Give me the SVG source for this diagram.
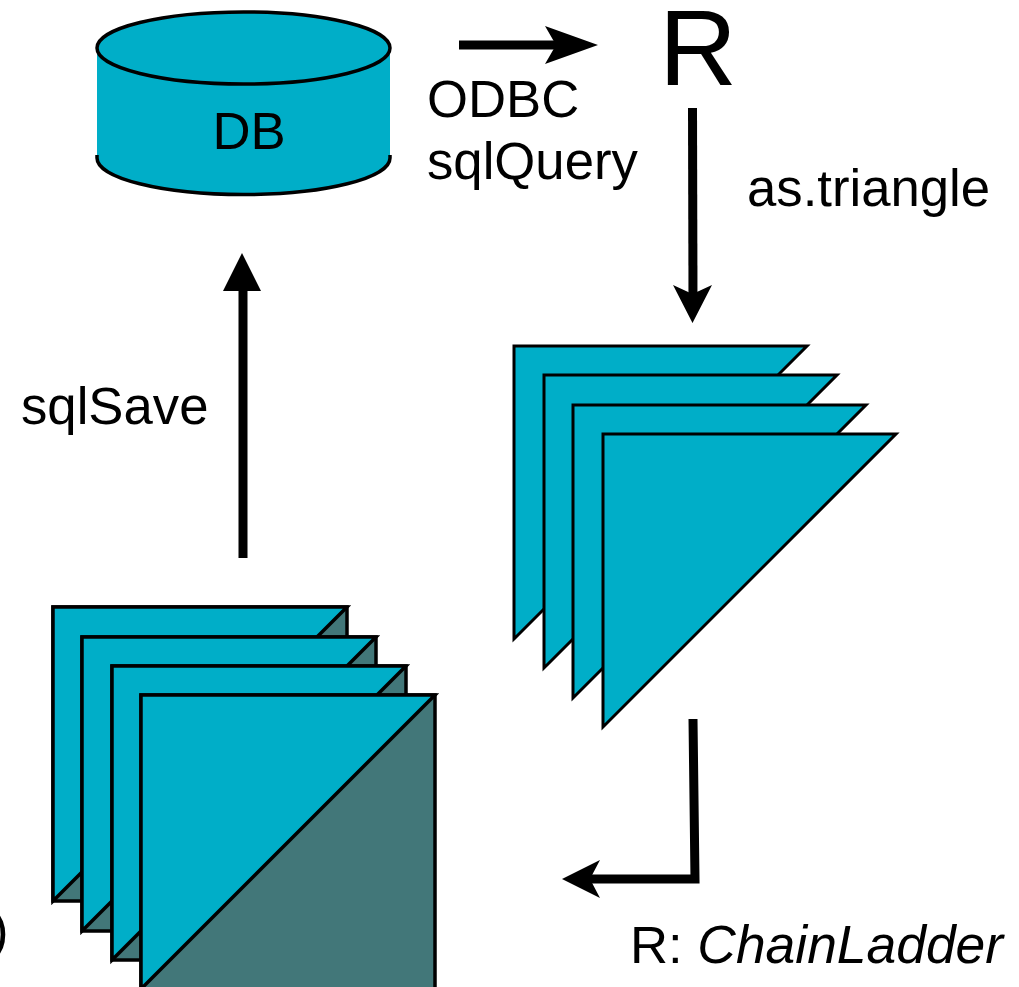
<svg xmlns="http://www.w3.org/2000/svg" width="1019" height="987" viewBox="0 0 1019 987">
<style>
text{font-family:"Liberation Sans",Arial,sans-serif;font-size:52.7px;fill:#000}
.c{fill:#00aec8;stroke:#000;stroke-width:3.5}
.d{fill:#427779;stroke:#000;stroke-width:3.5}
.t{fill:#00aec8;stroke:#000;stroke-width:3.5;stroke-linejoin:miter}
.u{fill:#00aec8;stroke:#000;stroke-width:3;stroke-linejoin:miter}
.l{fill:none;stroke:#000;stroke-width:9}
.h{fill:#000;stroke:none}
.a{fill:none;stroke:#000;stroke-width:3.5}
</style>
<defs>
<path id="tri" class="u" d="M0 0H293L0 293Z"/>
<g id="sq"><rect class="d" width="294" height="294"/><path class="t" d="M0 0H294L0 294Z"/></g>
</defs>
<rect width="1019" height="987" fill="#fff"/>
<g id="connectors">
<path class="l" d="M459 45H575"/><path class="h" d="M598 45L545 26L556 45L545 64Z"/>
<path class="l" d="M692.500 108L693 300"/><path class="h" d="M692.500 323L673 285L692.500 294L712 285Z"/>
<path class="l" d="M243 558V280"/><path class="h" d="M242 253L223 291H261Z"/>
<path class="l" d="M693 719L695 879H590"/><path class="h" d="M562 879L600 860L590 879L600 898Z"/>
</g>
<g id="db">
<path fill="#00aec8" d="M97 48H390V158C390 178 325 194.500 243.500 194.500S97 178 97 158Z"/>
<path class="a" d="M97 155V158C97 178 162 194.500 243.500 194.500S390 178 390 158V155"/>
<ellipse class="c" cx="243.500" cy="48" rx="146.500" ry="36"/>
<text x="249" y="149" text-anchor="middle">DB</text>
</g>
<g id="r"><text x="659" y="85" style="font-size:108px">R</text></g>
<g id="triangles">
<use href="#tri" x="514" y="346"/><use href="#tri" x="544" y="375"/><use href="#tri" x="573" y="405"/><use href="#tri" x="603" y="434"/>
</g>
<g id="squares">
<use href="#sq" x="53" y="607"/><use href="#sq" x="82" y="637"/><use href="#sq" x="112" y="666"/><use href="#sq" x="141" y="695"/>
</g>
<g id="labels">
<text x="427" y="117">ODBC</text>
<text x="427" y="179">sqlQuery</text>
<text x="747" y="206">as.triangle</text>
<text x="21" y="424">sqlSave</text>
<text x="630" y="963">R: <tspan font-style="italic" style="font-size:53.4px">ChainLadder</tspan></text>
<text x="-9" y="948">)</text>
</g>
</svg>
